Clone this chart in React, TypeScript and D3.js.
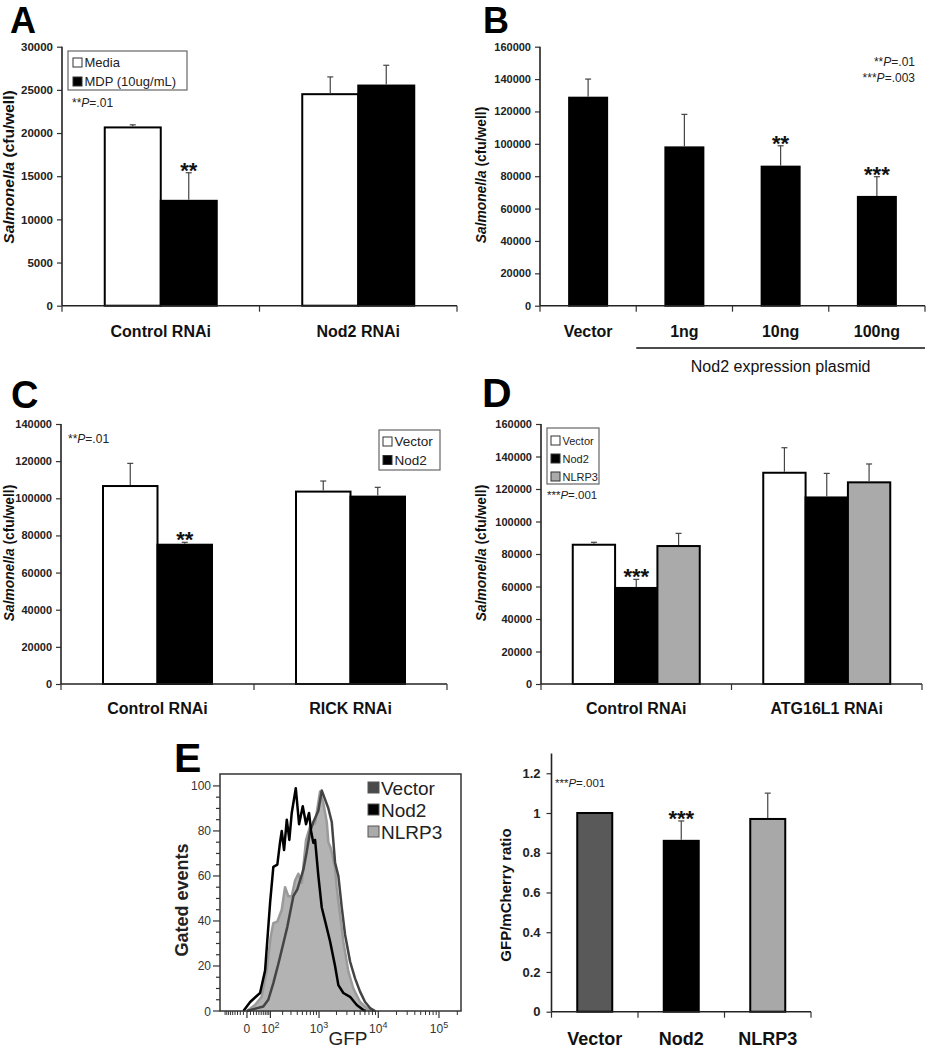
import React, { useEffect, useRef } from 'react';
import * as d3 from 'd3';

const FONT = '"Liberation Sans", Arial, Helvetica, sans-serif';

// ---- Panel A ----
const aCategories = ['Control RNAi', 'Nod2 RNAi'];
const aMedia = [20650, 24500];
const aMediaErr = [300, 2000];
const aMdp = [12150, 25500];
const aMdpErr = [3250, 2350];
const aTicks = [0, 5000, 10000, 15000, 20000, 25000, 30000];

// ---- Panel B ----
const bCategories = ['Vector', '1ng', '10ng', '100ng'];
const bValues = [128500, 97800, 85900, 67200];
const bErr = [11500, 20400, 12900, 12500];
const bTicks = [0, 20000, 40000, 60000, 80000, 100000, 120000, 140000, 160000];

// ---- Panel C ----
const cCategories = ['Control RNAi', 'RICK RNAi'];
const cVector = [106600, 103600];
const cVectorErr = [12200, 5700];
const cNod2 = [75000, 100900];
const cNod2Err = [1300, 5000];
const cTicks = [0, 20000, 40000, 60000, 80000, 100000, 120000, 140000];

// ---- Panel D ----
const dCategories = ['Control RNAi', 'ATG16L1 RNAi'];
const dVector = [85700, 130000];
const dVectorErr = [1500, 15400];
const dNod2 = [59100, 114800];
const dNod2Err = [5300, 14800];
const dNlrp3 = [84900, 124100];
const dNlrp3Err = [7800, 11300];
const dTicks = [0, 20000, 40000, 60000, 80000, 100000, 120000, 140000, 160000];

// ---- Panel E: histogram (GFP, gated events) ----
const histNod2: [number, number][] = [
    [-10, 0], [9, 4], [25, 6], [45, 8], [69, 18], [98, 48], [120, 64], [151, 65], [175, 75],
    [191, 80], [215, 71.5], [246, 85], [278, 76], [311, 88], [374, 99], [433, 83], [508, 91],
    [585, 83], [664, 88], [721, 80], [793, 74.7], [851, 76], [973, 60], [1116, 46], [1363, 37],
    [1554, 31], [1892, 20], [2153, 11.5], [2616, 8], [3392, 6.3], [4390, 2.7], [5656, 0.4], [6200, 0],
];
const histVector: [number, number][] = [
    [0, 0], [60, 2], [87, 5], [120, 12.4], [160, 21], [207, 30], [253, 37.5], [278, 42], [335, 51],
    [401, 54], [452, 58], [521, 62.7], [603, 70.8], [692, 79.7], [793, 84], [973, 89], [1116, 98],
    [1274, 94], [1453, 90], [1662, 84], [1892, 66], [2153, 60], [2458, 46], [2794, 34], [3392, 22],
    [4112, 14.5], [4982, 8.6], [6034, 4], [7308, 1.3], [8850, 0],
];
const histNlrp3: [number, number][] = [
    [0, 0], [25, 2.7], [52, 6.3], [78, 18], [102, 33], [120, 39], [151, 39.7], [191, 45], [226, 55],
    [265, 51], [311, 51], [362, 58], [419, 61], [487, 57], [585, 76], [692, 82], [851, 83.4],
    [1042, 97.5], [1190, 92.4], [1363, 84], [1453, 75], [1597, 72.4], [1892, 63.4], [2022, 54.7],
    [2301, 42.7], [2616, 30.8], [3177, 17.5], [3852, 10], [4982, 4], [6440, 1.3], [7885, 0],
];
const histYTicks = [0, 20, 40, 60, 80, 100];
const histXMajor = [0, 100, 1000, 10000, 100000];
const histXLabels = ['0', '2', '3', '4', '5'];

// ---- Panel E: ratio bars ----
const eCategories = ['Vector', 'Nod2', 'NLRP3'];
const eValues = [1.0, 0.86, 0.97];
const eErr = [0, 0.1, 0.13];
const eTicks = [0, 0.2, 0.4, 0.6, 0.8, 1, 1.2];

interface Series {
    name: string;
    fill: string;
    fills?: string[];
    values: number[];
    errors: number[];
}

interface BarPanel {
    left: number;
    right: number;
    top: number;
    bottom: number;
    yMax: number;
    ticks: number[];
    tickFmt: (d: number) => string;
    tickFont: number;
    tickPad: number;
    categories: string[];
    series: Series[];
    groupWidth: number;
    catFont: number;
    catBaseline: number;
    yLabelX: number;
    yLabelY: number;
    yLabelFont: number;
    yLabelItalic: string;
    yLabelRest: string;
    stars: { cat: number; series: number; text: string }[];
}

type Sel = d3.Selection<SVGSVGElement, unknown, null, undefined>;

const drawBarPanel = (svg: Sel, p: BarPanel) => {
    const y = d3.scaleLinear().domain([0, p.yMax]).range([p.bottom, p.top]);
    const x0 = d3.scaleBand<string>().domain(p.categories).range([p.left, p.right]);
    const x1 = d3.scaleBand<string>().domain(p.series.map((s) => s.name)).range([0, p.groupWidth]);
    const off = (x0.bandwidth() - p.groupWidth) / 2;

    const gy = svg.append('g')
        .attr('transform', `translate(${p.left},0)`)
        .call(d3.axisLeft(y).tickValues(p.ticks).tickSize(5).tickSizeOuter(0).tickPadding(p.tickPad)
            .tickFormat((d) => p.tickFmt(d as number)));
    gy.select('.domain').remove();
    gy.selectAll('line').attr('stroke', '#333').attr('stroke-width', 1.2);
    gy.selectAll('text')
        .attr('font-family', FONT)
        .attr('font-size', p.tickFont)
        .attr('font-weight', 'bold')
        .attr('fill', '#222');

    svg.append('line')
        .attr('x1', p.left).attr('x2', p.left)
        .attr('y1', p.top).attr('y2', p.bottom)
        .attr('stroke', '#222').attr('stroke-width', 1.6);

    // bars
    p.series.forEach((s) => {
        svg.append('g').selectAll('rect')
            .data(p.categories)
            .enter()
            .append('rect')
            .attr('x', (c) => (x0(c) as number) + off + (x1(s.name) as number))
            .attr('y', (_c, i) => y(s.values[i]))
            .attr('width', x1.bandwidth())
            .attr('height', (_c, i) => y(0) - y(s.values[i]))
            .attr('fill', (_c, i) => (s.fills ? s.fills[i] : s.fill))
            .attr('stroke', '#000')
            .attr('stroke-width', 2);
    });

    // error bars (upper only)
    p.series.forEach((s) => {
        p.categories.forEach((c, i) => {
            if (!s.errors[i]) return;
            const cx = (x0(c) as number) + off + (x1(s.name) as number) + x1.bandwidth() / 2;
            const g = svg.append('g').attr('stroke', '#444').attr('stroke-width', 1.2);
            g.append('line').attr('x1', cx).attr('x2', cx)
                .attr('y1', y(s.values[i]) - 1).attr('y2', y(s.values[i] + s.errors[i]));
            g.append('line').attr('x1', cx - 3).attr('x2', cx + 3)
                .attr('y1', y(s.values[i] + s.errors[i])).attr('y2', y(s.values[i] + s.errors[i]));
        });
    });

    // x axis
    svg.append('line')
        .attr('x1', p.left).attr('x2', p.right)
        .attr('y1', p.bottom).attr('y2', p.bottom)
        .attr('stroke', '#222').attr('stroke-width', 1.6);
    const bounds = [p.left, ...p.categories.map((c) => (x0(c) as number) + x0.bandwidth())];
    svg.append('g').selectAll('line')
        .data(bounds)
        .enter()
        .append('line')
        .attr('x1', (d) => d).attr('x2', (d) => d)
        .attr('y1', p.bottom).attr('y2', p.bottom + 6)
        .attr('stroke', '#333').attr('stroke-width', 1.2);

    svg.append('g').selectAll('text')
        .data(p.categories)
        .enter()
        .append('text')
        .attr('x', (c) => (x0(c) as number) + x0.bandwidth() / 2)
        .attr('y', p.catBaseline)
        .attr('text-anchor', 'middle')
        .attr('font-family', FONT)
        .attr('font-size', p.catFont)
        .attr('font-weight', 'bold')
        .attr('fill', '#111')
        .text((c) => c);

    // y label
    const yl = svg.append('text')
        .attr('transform', `translate(${p.yLabelX},${p.yLabelY}) rotate(-90)`)
        .attr('text-anchor', 'middle')
        .attr('font-family', FONT)
        .attr('font-size', p.yLabelFont)
        .attr('font-weight', 'bold')
        .attr('fill', '#111');
    if (p.yLabelItalic) yl.append('tspan').attr('font-style', 'italic').text(p.yLabelItalic);
    yl.append('tspan').text(p.yLabelRest);

    // significance stars
    p.stars.forEach((st) => {
        const s = p.series[st.series];
        const c = p.categories[st.cat];
        const cx = (x0(c) as number) + off + (x1(s.name) as number) + x1.bandwidth() / 2;
        svg.append('text')
            .attr('x', cx)
            .attr('y', y(s.values[st.cat] + s.errors[st.cat]) + 5)
            .attr('text-anchor', 'middle')
            .attr('font-family', FONT)
            .attr('font-size', 22)
            .attr('font-weight', 'bold')
            .attr('fill', '#111')
            .text(st.text);
    });

    return { x0, y };
};

const pText = (svg: Sel, x: number, y: number, stars: string, rest: string, anchor: string, size: number) => {
    const t = svg.append('text')
        .attr('x', x).attr('y', y)
        .attr('text-anchor', anchor)
        .attr('font-family', FONT)
        .attr('font-size', size)
        .attr('fill', '#222');
    t.append('tspan').text(stars);
    t.append('tspan').attr('font-style', 'italic').text('P');
    t.append('tspan').text(rest);
};

const drawLegend = (
    svg: Sel,
    box: { x: number; y: number; w: number; h: number },
    items: { label: string; fill: string }[],
    sx: number,
    firstBase: number,
    step: number,
    font: number,
) => {
    svg.append('rect')
        .attr('x', box.x).attr('y', box.y).attr('width', box.w).attr('height', box.h)
        .attr('fill', '#fff').attr('stroke', '#666').attr('stroke-width', 1.2);
    items.forEach((it, i) => {
        const by = firstBase + i * step;
        svg.append('rect')
            .attr('x', sx).attr('y', by - 9).attr('width', 9).attr('height', 9)
            .attr('fill', it.fill).attr('stroke', '#333').attr('stroke-width', 1);
        svg.append('text')
            .attr('x', sx + 11.5).attr('y', by)
            .attr('font-family', FONT).attr('font-size', font).attr('fill', '#222')
            .text(it.label);
    });
};

const panelLetter = (svg: Sel, x: number, y: number, letter: string, size: number) => {
    svg.append('text')
        .attr('x', x).attr('y', y)
        .attr('font-family', FONT).attr('font-size', size).attr('font-weight', 'bold')
        .attr('fill', '#000')
        .text(letter);
};

const App: React.FC = () => {
    const svgRef = useRef<SVGSVGElement>(null);

    useEffect(() => {
        if (!svgRef.current) return;
        const svg = d3.select(svgRef.current);
        svg.selectAll('*').remove();
        svg.append('rect').attr('width', 926).attr('height', 1050).attr('fill', '#fff');

        const intFmt = d3.format('d');

        // ---------- A ----------
        panelLetter(svg, 10, 33, 'A', 36);
        drawBarPanel(svg, {
            left: 62, right: 457, top: 46.7, bottom: 305.7, yMax: 30000, ticks: aTicks,
            tickFmt: intFmt, tickFont: 11.5, tickPad: 4,
            categories: aCategories,
            series: [
                { name: 'Media', fill: '#fff', values: aMedia, errors: aMediaErr },
                { name: 'MDP', fill: '#000', values: aMdp, errors: aMdpErr },
            ],
            groupWidth: 112, catFont: 16, catBaseline: 337,
            yLabelX: 14, yLabelY: 167, yLabelFont: 15.5,
            yLabelItalic: 'Salmonella', yLabelRest: ' (cfu/well)',
            stars: [{ cat: 0, series: 1, text: '**' }],
        });
        drawLegend(svg, { x: 68, y: 51, w: 119, h: 39 },
            [{ label: 'Media', fill: '#fff' }, { label: 'MDP (10ug/mL)', fill: '#000' }], 73, 67, 19, 13);
        pText(svg, 72, 107, '**', '=.01', 'start', 12);

        // ---------- B ----------
        panelLetter(svg, 483, 33, 'B', 36);
        const b = drawBarPanel(svg, {
            left: 540, right: 925, top: 46.7, bottom: 305.7, yMax: 160000, ticks: bTicks,
            tickFmt: intFmt, tickFont: 11, tickPad: 4,
            categories: bCategories,
            series: [{ name: 'Nod2', fill: '#000', values: bValues, errors: bErr }],
            groupWidth: 38, catFont: 16, catBaseline: 337,
            yLabelX: 486, yLabelY: 175, yLabelFont: 13.8,
            yLabelItalic: 'Salmonella', yLabelRest: ' (cfu/well)',
            stars: [{ cat: 2, series: 0, text: '**' }, { cat: 3, series: 0, text: '***' }],
        });
        pText(svg, 915, 66, '**', '=.01', 'end', 12);
        pText(svg, 915, 82, '***', '=.003', 'end', 12);
        const plasmidStart = b.x0('1ng') as number;
        svg.append('line')
            .attr('x1', plasmidStart).attr('x2', 925)
            .attr('y1', 348).attr('y2', 348)
            .attr('stroke', '#111').attr('stroke-width', 1.6);
        svg.append('text')
            .attr('x', (plasmidStart + 925) / 2).attr('y', 372)
            .attr('text-anchor', 'middle')
            .attr('font-family', FONT).attr('font-size', 16).attr('fill', '#111')
            .text('Nod2 expression plasmid');

        // ---------- C ----------
        panelLetter(svg, 11, 408, 'C', 38);
        drawBarPanel(svg, {
            left: 61, right: 447, top: 424, bottom: 684, yMax: 140000, ticks: cTicks,
            tickFmt: intFmt, tickFont: 11, tickPad: 4,
            categories: cCategories,
            series: [
                { name: 'Vector', fill: '#fff', values: cVector, errors: cVectorErr },
                { name: 'Nod2', fill: '#000', values: cNod2, errors: cNod2Err },
            ],
            groupWidth: 109, catFont: 16, catBaseline: 714,
            yLabelX: 14, yLabelY: 553, yLabelFont: 13.8,
            yLabelItalic: 'Salmonella', yLabelRest: ' (cfu/well)',
            stars: [{ cat: 0, series: 1, text: '**' }],
        });
        drawLegend(svg, { x: 379, y: 430, w: 61, h: 40 },
            [{ label: 'Vector', fill: '#fff' }, { label: 'Nod2', fill: '#000' }], 383, 446, 18.5, 13.5);
        pText(svg, 68, 443, '**', '=.01', 'start', 12);

        // ---------- D ----------
        panelLetter(svg, 482, 407, 'D', 41);
        drawBarPanel(svg, {
            left: 541, right: 922, top: 424, bottom: 684, yMax: 160000, ticks: dTicks,
            tickFmt: intFmt, tickFont: 11, tickPad: 4,
            categories: dCategories,
            series: [
                { name: 'Vector', fill: '#fff', values: dVector, errors: dVectorErr },
                { name: 'Nod2', fill: '#000', values: dNod2, errors: dNod2Err },
                { name: 'NLRP3', fill: '#aaaaaa', values: dNlrp3, errors: dNlrp3Err },
            ],
            groupWidth: 127, catFont: 16, catBaseline: 714,
            yLabelX: 486, yLabelY: 553, yLabelFont: 13.8,
            yLabelItalic: 'Salmonella', yLabelRest: ' (cfu/well)',
            stars: [{ cat: 0, series: 1, text: '***' }],
        });
        drawLegend(svg, { x: 547, y: 428, w: 52, h: 56 },
            [{ label: 'Vector', fill: '#fff' }, { label: 'Nod2', fill: '#000' }, { label: 'NLRP3', fill: '#aaaaaa' }],
            551, 445, 18, 11);
        pText(svg, 547, 499, '***', '=.001', 'start', 11.5);

        // ---------- E histogram ----------
        panelLetter(svg, 174, 772, 'E', 41);
        const hx = d3.scaleSymlog().constant(70).domain([-124, 230000]).range([220, 461]);
        const hy = d3.scaleLinear().domain([0, 105.3]).range([1011, 774]);

        const area = d3.area<[number, number]>()
            .x((d) => hx(d[0]))
            .y0(hy(0))
            .y1((d) => hy(d[1]));
        const line = d3.line<[number, number]>()
            .x((d) => hx(d[0]))
            .y((d) => hy(d[1]));

        svg.append('path').attr('d', area(histNlrp3) as string).attr('fill', '#b3b3b3');
        svg.append('path').attr('d', line(histNlrp3) as string)
            .attr('fill', 'none').attr('stroke', '#9a9a9a').attr('stroke-width', 2.5).attr('stroke-linejoin', 'round');
        svg.append('path').attr('d', line(histVector) as string)
            .attr('fill', 'none').attr('stroke', '#444').attr('stroke-width', 2.5).attr('stroke-linejoin', 'round');
        svg.append('path').attr('d', line(histNod2) as string)
            .attr('fill', 'none').attr('stroke', '#000').attr('stroke-width', 2.5).attr('stroke-linejoin', 'round');

        svg.append('rect')
            .attr('x', 220).attr('y', 774).attr('width', 241).attr('height', 237)
            .attr('fill', 'none').attr('stroke', '#333').attr('stroke-width', 1.5);

        // y ticks
        const yMinor = d3.range(0, 101, 5);
        svg.append('g').selectAll('line')
            .data(yMinor)
            .enter()
            .append('line')
            .attr('x1', (d) => (d % 20 === 0 ? 213 : 216)).attr('x2', 220)
            .attr('y1', (d) => hy(d)).attr('y2', (d) => hy(d))
            .attr('stroke', '#333').attr('stroke-width', 1.2);
        svg.append('g').selectAll('text')
            .data(histYTicks)
            .enter()
            .append('text')
            .attr('x', 211).attr('y', (d) => hy(d) + 4.5)
            .attr('text-anchor', 'end')
            .attr('font-family', FONT).attr('font-size', 12).attr('fill', '#333')
            .text((d) => String(d));
        svg.append('text')
            .attr('transform', 'translate(188,900) rotate(-90)')
            .attr('text-anchor', 'middle')
            .attr('font-family', FONT).attr('font-size', 18).attr('font-weight', 'bold').attr('fill', '#222')
            .text('Gated events');

        // x ticks (logicle-style)
        const xMinor: number[] = [];
        for (let k = 1; k <= 9; k++) xMinor.push(-k * 10);
        [10, 100, 1000, 10000, 100000].forEach((dec) => {
            for (let m = 1; m <= 9; m++) {
                const v = m * dec;
                if (v <= 200000 && !histXMajor.includes(v)) xMinor.push(v);
            }
        });
        svg.append('g').selectAll('line')
            .data(xMinor)
            .enter()
            .append('line')
            .attr('x1', (d) => hx(d)).attr('x2', (d) => hx(d))
            .attr('y1', 1011).attr('y2', 1015)
            .attr('stroke', '#333').attr('stroke-width', 1);
        svg.append('g').selectAll('line')
            .data(histXMajor)
            .enter()
            .append('line')
            .attr('x1', (d) => hx(d)).attr('x2', (d) => hx(d))
            .attr('y1', 1011).attr('y2', 1018)
            .attr('stroke', '#333').attr('stroke-width', 1.2);
        histXMajor.forEach((v, i) => {
            const t = svg.append('text')
                .attr('x', hx(v)).attr('y', 1033)
                .attr('text-anchor', 'middle')
                .attr('font-family', FONT).attr('font-size', 12).attr('fill', '#333');
            if (v === 0) {
                t.text('0');
            } else {
                t.append('tspan').text('10');
                t.append('tspan').attr('dy', -5).attr('font-size', 9).text(histXLabels[i]);
            }
        });
        svg.append('text')
            .attr('x', 348).attr('y', 1045)
            .attr('text-anchor', 'middle')
            .attr('font-family', FONT).attr('font-size', 19).attr('fill', '#222')
            .text('GFP');

        // histogram legend
        [
            { label: 'Vector', fill: '#4a4a4a' },
            { label: 'Nod2', fill: '#000' },
            { label: 'NLRP3', fill: '#aaaaaa' },
        ].forEach((it, i) => {
            const cy = 788 + i * 22;
            svg.append('rect')
                .attr('x', 368).attr('y', cy - 6).attr('width', 11).attr('height', 11)
                .attr('fill', it.fill).attr('stroke', '#555').attr('stroke-width', 1);
            svg.append('text')
                .attr('x', 381).attr('y', cy + 7)
                .attr('font-family', FONT).attr('font-size', 19).attr('fill', '#222')
                .text(it.label);
        });

        // ---------- E ratio bars ----------
        drawBarPanel(svg, {
            left: 551.5, right: 811, top: 753.4, bottom: 1011.7, yMax: 1.3, ticks: eTicks,
            tickFmt: (d) => String(+d.toFixed(1)), tickFont: 13, tickPad: 6,
            categories: eCategories,
            series: [{
                name: 'ratio', fill: '#000', fills: ['#595959', '#000', '#a8a8a8'],
                values: eValues, errors: eErr,
            }],
            groupWidth: 35, catFont: 18, catBaseline: 1045,
            yLabelX: 511, yLabelY: 895, yLabelFont: 15,
            yLabelItalic: '', yLabelRest: 'GFP/mCherry ratio',
            stars: [{ cat: 1, series: 0, text: '***' }],
        });
        pText(svg, 555, 787, '***', '=.001', 'start', 11.5);
    }, []);

    return (
        <div>
            <svg
                ref={svgRef}
                width={926}
                height={1050}
                style={{ position: 'absolute', left: 0, top: 0 }}
            ></svg>
        </div>
    );
};

export default App;
